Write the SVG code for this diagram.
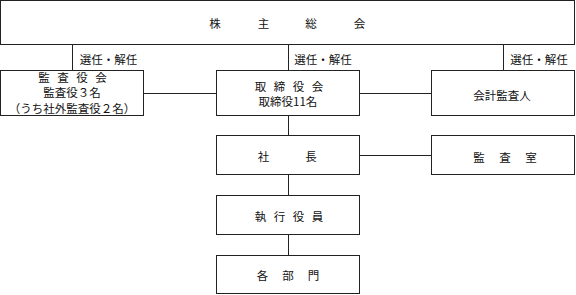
<svg xmlns="http://www.w3.org/2000/svg" width="576" height="295" viewBox="0 0 576 295">
<style>
rect{fill:#fff;stroke:#222;stroke-width:1}
.c line{stroke:#222;stroke-width:1}
text{font-family:"Noto Sans CJK JP","Noto Sans CJK SC",sans-serif;font-size:11.5px;fill:#111;text-anchor:middle;dominant-baseline:central}
</style>
<g class="c" id="connectors">
<line x1="72.5" y1="44.5" x2="72.5" y2="70.5"/>
<line x1="288.5" y1="44.5" x2="288.5" y2="70.5"/>
<line x1="503.5" y1="44.5" x2="503.5" y2="70.5"/>
<line x1="143.5" y1="93.5" x2="216.5" y2="93.5"/>
<line x1="359.5" y1="93.5" x2="431.5" y2="93.5"/>
<line x1="288.5" y1="115.5" x2="288.5" y2="135.5"/>
<line x1="359.5" y1="155.5" x2="431.5" y2="155.5"/>
<line x1="288.5" y1="174.5" x2="288.5" y2="195.5"/>
<line x1="288.5" y1="234.5" x2="288.5" y2="255.5"/>
<text x="108.5" y="59">選任・解任</text>
<text x="323" y="59">選任・解任</text>
<text x="539" y="59">選任・解任</text>
</g>
<g id="shareholders">
<rect x="0.5" y="0.5" width="574" height="44"/>
<text y="23"><tspan x="215">株</tspan><tspan x="263.5">主</tspan><tspan x="311">総</tspan><tspan x="359.5">会</tspan></text>
</g>
<g id="auditors">
<rect x="0.5" y="70.5" width="143" height="45"/>
<text y="77"><tspan x="44">監</tspan><tspan x="63">査</tspan><tspan x="82">役</tspan><tspan x="101">会</tspan></text>
<text x="72" y="92">監査役３名</text>
<text x="72" y="108">（うち社外監査役２名）</text>
</g>
<g id="board">
<rect x="216.5" y="70.5" width="143" height="45"/>
<text y="86"><tspan x="260.5">取</tspan><tspan x="279.5">締</tspan><tspan x="298.5">役</tspan><tspan x="317.5">会</tspan></text>
<text x="288" y="101">取締役11名</text>
</g>
<g id="accounting-auditor">
<rect x="431.5" y="70.5" width="143" height="45"/>
<text x="502" y="95">会計監査人</text>
</g>
<g id="president">
<rect x="216.5" y="135.5" width="143" height="39"/>
<text y="156"><tspan x="263.5">社</tspan><tspan x="311">長</tspan></text>
</g>
<g id="audit-office">
<rect x="431.5" y="135.5" width="143" height="39"/>
<text y="157"><tspan x="479">監</tspan><tspan x="505">査</tspan><tspan x="531">室</tspan></text>
</g>
<g id="executives">
<rect x="216.5" y="195.5" width="143" height="39"/>
<text y="216"><tspan x="260.5">執</tspan><tspan x="279.5">行</tspan><tspan x="298.5">役</tspan><tspan x="317.5">員</tspan></text>
</g>
<g id="departments">
<rect x="216.5" y="255.5" width="143" height="38"/>
<text y="275"><tspan x="262.5">各</tspan><tspan x="288">部</tspan><tspan x="313.5">門</tspan></text>
</g>
</svg>
